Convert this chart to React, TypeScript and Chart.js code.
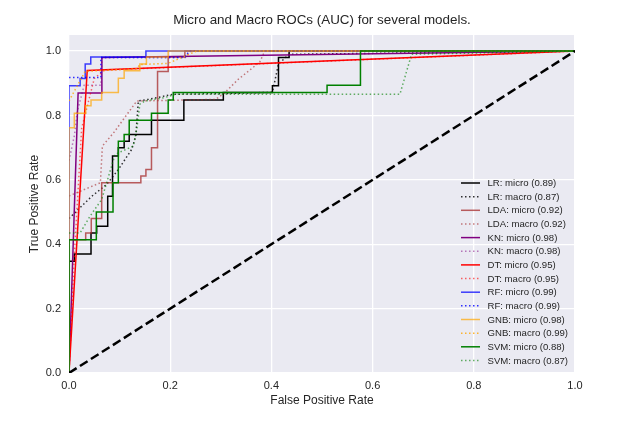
import { useEffect, useRef } from 'react';
import { Chart, registerables, type Plugin } from 'chart.js';

Chart.register(...registerables);

// model names and AUC scores shown in the legend
const models = ['LR', 'LDA', 'KN', 'DT', 'RF', 'GNB', 'SVM'];
const microAuc = [0.89, 0.92, 0.98, 0.95, 0.99, 0.98, 0.88];
const macroAuc = [0.87, 0.92, 0.98, 0.95, 0.99, 0.99, 0.87];

const xTicks = [0, 0.2, 0.4, 0.6, 0.8, 1.0];
const yTicks = [0, 0.2, 0.4, 0.6, 0.8, 1.0];

// ROC curves as [fpr, tpr] pairs
const lrMicro = [[0, 0], [0, 0.347], [0.0105, 0.347], [0.0105, 0.37], [0.0435, 0.37], [0.0435, 0.435], [0.0547, 0.435], [0.0547, 0.456], [0.0765, 0.456], [0.0765, 0.549], [0.086, 0.549], [0.086, 0.674], [0.0975, 0.674], [0.0975, 0.7], [0.109, 0.7], [0.109, 0.72], [0.119, 0.72], [0.119, 0.741], [0.163, 0.741], [0.163, 0.785], [0.227, 0.785], [0.227, 0.848], [0.305, 0.848], [0.305, 0.871], [0.402, 0.871], [0.402, 0.892], [0.414, 0.892], [0.414, 0.98], [0.435, 0.98], [0.435, 1], [1, 1]];
const lrMacro = [[0, 0.48], [0.045, 0.549], [0.0745, 0.586], [0.0975, 0.632], [0.124, 0.695], [0.132, 0.736], [0.137, 0.845], [0.157, 0.85], [0.206, 0.866], [0.305, 0.868], [0.402, 0.872], [0.414, 0.96], [0.435, 0.99], [1, 1]];
const ldaMicro = [[0, 0], [0, 0.414], [0.033, 0.414], [0.033, 0.435], [0.044, 0.435], [0.044, 0.48], [0.0646, 0.48], [0.0646, 0.591], [0.142, 0.591], [0.142, 0.612], [0.152, 0.612], [0.152, 0.632], [0.163, 0.632], [0.163, 0.7], [0.175, 0.7], [0.175, 0.937], [0.196, 0.937], [0.196, 0.982], [0.229, 0.982], [0.229, 1], [1, 1]];
const ldaMacro = [[0, 0.55], [0.062, 0.591], [0.066, 0.705], [0.089, 0.748], [0.134, 0.845], [0.29, 0.85], [0.308, 0.871], [0.335, 0.913], [0.377, 0.966], [0.387, 1], [1, 1]];
const knMicro = [[0, 0], [0.018, 0.87], [0.065, 0.87], [0.065, 0.98], [1, 1]];
const knMacro = [[0, 0.66], [0.011, 0.74], [0.016, 0.81], [0.03, 0.894], [0.063, 0.894], [0.065, 0.98], [0.23, 0.98], [0.24, 1], [1, 1]];
const dtMicro = [[0, 0], [0.036, 0.94], [1, 1]];
const dtMacro = [[0, 0], [0.01, 0.35], [0.025, 0.76], [0.05, 0.915], [0.07, 0.941], [1, 1]];
const rfMicro = [[0, 0], [0, 0.892], [0.022, 0.892], [0.022, 0.915], [0.032, 0.915], [0.032, 0.96], [0.043, 0.96], [0.043, 0.982], [0.152, 0.982], [0.152, 1], [1, 1]];
const rfMacro = [[0, 0.918], [0.063, 0.918], [0.063, 0.98], [0.228, 0.98], [0.238, 1], [1, 1]];
const gnbMicro = [[0, 0], [0, 0.762], [0.0105, 0.762], [0.0105, 0.807], [0.033, 0.807], [0.033, 0.83], [0.0435, 0.83], [0.0435, 0.848], [0.0646, 0.848], [0.0646, 0.871], [0.0975, 0.871], [0.0975, 0.916], [0.109, 0.916], [0.109, 0.939], [0.14, 0.939], [0.14, 0.96], [0.153, 0.96], [0.153, 0.982], [0.196, 0.982], [0.196, 1], [1, 1]];
const gnbMacro = [[0, 0.845], [0.032, 0.937], [0.134, 0.945], [0.14, 0.958], [0.196, 0.962], [0.252, 1], [1, 1]];
const svmMicro = [[0, 0], [0, 0.414], [0.054, 0.414], [0.054, 0.5], [0.087, 0.5], [0.087, 0.591], [0.0975, 0.591], [0.0975, 0.72], [0.109, 0.72], [0.109, 0.741], [0.119, 0.741], [0.119, 0.785], [0.163, 0.785], [0.163, 0.807], [0.196, 0.807], [0.196, 0.848], [0.206, 0.848], [0.206, 0.871], [0.51, 0.871], [0.51, 0.894], [0.576, 0.894], [0.576, 1], [1, 1]];
const svmMacro = [[0, 0.435], [0.022, 0.435], [0.0415, 0.487], [0.0646, 0.539], [0.091, 0.679], [0.127, 0.705], [0.134, 0.757], [0.14, 0.835], [0.15, 0.845], [0.19, 0.856], [0.21, 0.866], [0.654, 0.866], [0.677, 0.99], [1, 1]];
const chance = [[0, 0], [1, 1]];

const microCurves = [lrMicro, ldaMicro, knMicro, dtMicro, rfMicro, gnbMicro, svmMicro];
const macroCurves = [lrMacro, ldaMacro, knMacro, dtMacro, rfMacro, gnbMacro, svmMacro];

const rgb = ['0,0,0', '165,42,42', '128,0,128', '255,0,0', '0,0,255', '255,165,0', '0,128,0'];
const microAlpha = [1, 0.75, 1, 1, 0.75, 0.7, 1];
const macroAlpha = [0.8, 0.6, 0.5, 0.6, 0.8, 0.8, 0.6];

const FONT = '"Liberation Sans", Arial, sans-serif';
const TEXT = '#262626';

const toXY = (pts: number[][]) => pts.map(([x, y]) => ({ x, y }));

const datasets: any[] = [];
models.forEach((m, i) => {
    datasets.push({
        label: `${m}: micro (${microAuc[i].toFixed(2)})`,
        data: toXY(microCurves[i]),
        borderColor: `rgba(${rgb[i]},${microAlpha[i]})`,
        borderWidth: 1.5,
        borderDash: [],
    });
    datasets.push({
        label: `${m}: macro (${macroAuc[i].toFixed(2)})`,
        data: toXY(macroCurves[i]),
        borderColor: `rgba(${rgb[i]},${macroAlpha[i]})`,
        borderWidth: 1.5,
        borderDash: [1.5, 2.5],
    });
});
datasets.push({
    label: '',
    data: toXY(chance),
    borderColor: '#000',
    borderWidth: 2.5,
    borderDash: [9, 4],
});
datasets.forEach((d, i) => {
    d.pointRadius = 0;
    d.fill = false;
    d.tension = 0;
    d.order = -i;
});

const backdrop: Plugin = {
    id: 'backdrop',
    beforeDraw(chart) {
        const { ctx, chartArea: a } = chart;
        ctx.save();
        ctx.fillStyle = '#eaeaf2';
        ctx.fillRect(a.left, a.top, a.right - a.left, a.bottom - a.top);
        ctx.restore();
    },
    afterDraw(chart) {
        const { ctx, chartArea: a } = chart;
        ctx.save();
        ctx.font = `13.4px ${FONT}`;
        ctx.fillStyle = TEXT;
        ctx.textAlign = 'center';
        ctx.textBaseline = 'middle';
        ctx.fillText('Micro and Macro ROCs (AUC) for several models.', (a.left + a.right) / 2, 20);
        ctx.restore();
    },
};

const rocLegend: Plugin = {
    id: 'rocLegend',
    afterDatasetsDraw(chart) {
        const { ctx, chartArea: a } = chart;
        const x0 = a.right - 114;
        const y0 = a.bottom - 190;
        ctx.save();
        ctx.font = `9.6px ${FONT}`;
        ctx.textBaseline = 'middle';
        ctx.fillStyle = TEXT;
        chart.data.datasets.forEach((ds: any, i) => {
            if (!ds.label) return;
            const y = y0 + i * 13.65;
            ctx.strokeStyle = ds.borderColor;
            ctx.lineWidth = ds.borderWidth;
            ctx.setLineDash(ds.borderDash);
            ctx.beginPath();
            ctx.moveTo(x0, y);
            ctx.lineTo(x0 + 19, y);
            ctx.stroke();
            ctx.fillText(ds.label, x0 + 26.5, y + 0.5);
        });
        ctx.restore();
    },
};

export default function App() {
    const canvasRef = useRef<HTMLCanvasElement>(null);
    const chartRef = useRef<Chart | null>(null);

    useEffect(() => {
        if (!canvasRef.current) return;
        chartRef.current?.destroy();

        chartRef.current = new Chart(canvasRef.current, {
            type: 'line',
            data: { datasets },
            plugins: [backdrop, rocLegend],
            options: {
                animation: false,
                responsive: true,
                maintainAspectRatio: false,
                layout: { padding: { top: 35, right: 53, left: 0, bottom: 0 } },
                plugins: {
                    legend: { display: false },
                    title: { display: false },
                    tooltip: { enabled: false },
                },
                scales: {
                    x: {
                        type: 'linear',
                        min: 0,
                        max: 1,
                        afterBuildTicks: (s: any) => { s.ticks = xTicks.map((value) => ({ value })); },
                        afterFit: (s: any) => { s.height = 57; },
                        grid: { color: '#ffffff', lineWidth: 1.3, drawTicks: false },
                        border: { display: false },
                        ticks: {
                            padding: 6,
                            color: TEXT,
                            font: { family: FONT, size: 11 },
                            callback: (v: any) => Number(v).toFixed(1),
                        },
                        title: {
                            display: true,
                            text: 'False Positive Rate',
                            color: TEXT,
                            font: { family: FONT, size: 12 },
                            padding: { top: 0, bottom: 22 },
                        },
                    },
                    y: {
                        type: 'linear',
                        min: 0,
                        max: 1.05,
                        afterBuildTicks: (s: any) => { s.ticks = yTicks.map((value) => ({ value })); },
                        afterFit: (s: any) => { s.width = 69; },
                        grid: { color: '#ffffff', lineWidth: 1.3, drawTicks: false },
                        border: { display: false },
                        ticks: {
                            padding: 8,
                            color: TEXT,
                            font: { family: FONT, size: 11 },
                            callback: (v: any) => Number(v).toFixed(1),
                        },
                        title: {
                            display: true,
                            text: 'True Positive Rate',
                            color: TEXT,
                            font: { family: FONT, size: 12 },
                            padding: { top: 27, bottom: 0 },
                        },
                    },
                },
            },
        });

        return () => {
            chartRef.current?.destroy();
            chartRef.current = null;
        };
    }, []);

    return (
        <div style={{ position: 'absolute', left: 0, top: 0, width: 628, height: 430 }}>
            <canvas ref={canvasRef} />
        </div>
    );
}
